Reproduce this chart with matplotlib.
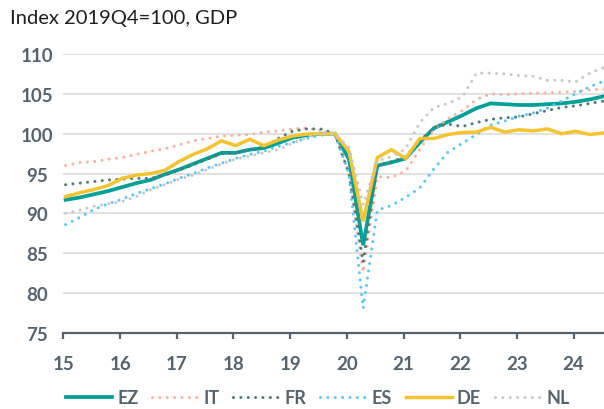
import matplotlib
matplotlib.use("Agg")
import matplotlib.pyplot as plt
import numpy as np

# Quarterly data 2015Q1 .. 2024Q3 (index 2019Q4 = 100)
start_year = 2015
year_ticks = list(range(2015, 2025))
year_labels = ["15", "16", "17", "18", "19", "20", "21", "22", "23", "24"]
y_ticks = [75, 80, 85, 90, 95, 100, 105, 110]

EZ = [91.7, 92.0, 92.4, 92.8, 93.3, 93.8, 94.2, 94.9, 95.5, 96.2, 96.9, 97.6, 97.6, 98.0, 98.2, 98.8,
      99.5, 99.8, 100.0, 100.0, 96.8, 86.0, 96.0, 96.4, 96.9, 98.9, 100.7, 101.5, 102.3, 103.2, 103.8,
      103.7, 103.6, 103.6, 103.7, 103.8, 104.0, 104.3, 104.7]
IT = [96.0, 96.4, 96.5, 96.8, 97.0, 97.4, 97.8, 98.1, 98.6, 99.1, 99.4, 99.7, 99.8, 99.9, 100.2, 100.35,
      100.6, 100.7, 100.4, 100.0, 95.0, 82.6, 94.6, 94.5, 95.3, 98.0, 100.6, 101.9, 102.9, 104.3, 105.0,
      104.9, 105.0, 105.1, 105.1, 105.2, 105.3, 105.5, 105.6]
FR = [93.6, 93.8, 94.0, 94.2, 94.3, 94.4, 94.4, 94.8, 95.4, 96.1, 96.8, 97.5, 97.6, 98.0, 98.3, 99.4,
      100.3, 100.6, 100.6, 100.0, 95.0, 83.9, 96.0, 96.5, 97.1, 99.1, 100.8, 101.2, 100.9, 101.4, 101.8,
      102.0, 102.1, 102.5, 102.9, 103.3, 103.5, 103.8, 104.1]
ES = [88.6, 89.5, 90.5, 91.2, 91.8, 92.5, 93.1, 93.7, 94.4, 95.0, 95.7, 96.3, 96.9, 97.4, 97.8, 98.4,
      98.9, 99.4, 99.8, 100.0, 95.0, 78.1, 90.4, 91.0, 92.0, 93.2, 95.6, 97.7, 98.8, 99.9, 101.1,
      101.6, 102.2, 102.6, 103.2, 104.1, 105.0, 105.9, 106.6]
DE = [92.1, 92.6, 93.0, 93.5, 94.4, 94.8, 95.0, 95.4, 96.5, 97.4, 98.1, 99.1, 98.5, 99.3, 98.5, 99.2,
      99.7, 99.95, 100.0, 100.0, 97.8, 89.0, 97.0, 98.0, 96.9, 99.4, 99.4, 99.9, 100.15, 100.2, 100.8,
      100.2, 100.5, 100.35, 100.6, 100.0, 100.3, 99.9, 100.1]
NL = [90.0, 90.4, 90.9, 91.2, 91.5, 92.1, 93.0, 93.6, 94.3, 94.8, 95.5, 96.2, 96.8, 97.2, 97.6, 98.0,
      98.8, 99.5, 100.1, 100.0, 98.3, 91.1, 96.6, 97.1, 98.1, 101.4, 103.3, 103.8, 104.6, 107.6, 107.6,
      107.5, 107.3, 107.2, 106.7, 106.7, 106.5, 107.6, 108.3]

n = len(EZ)
x = start_year + np.arange(n) / 4.0 + 0.0375

TEAL = "#00a096"
YELLOW = "#f4c430"
SALMON = "#f5b3a3"
DARKTEAL = "#4f7b78"
BLUE = "#5cc8f2"
GREY = "#c8c8c8"
TXT = "#56636d"

fig = plt.figure(figsize=(6.04, 4.10), dpi=100)
ax = fig.add_axes([0.1051, 0.1854, 0.8949, 0.6805])

dot = (0, (0.01, 2.4))
ax.plot(x, EZ, color=TEAL, lw=2.7, label="EZ", solid_joinstyle="miter", zorder=3)
ax.plot(x, IT, color=SALMON, lw=2.2, ls=dot, dash_capstyle="round", label="IT", zorder=3)
ax.plot(x, FR, color=DARKTEAL, lw=2.2, ls=dot, dash_capstyle="round", label="FR", zorder=3)
ax.plot(x, ES, color=BLUE, lw=2.2, ls=dot, dash_capstyle="round", label="ES", zorder=3)
ax.plot(x, DE, color=YELLOW, lw=2.5, label="DE", solid_joinstyle="miter", zorder=3)
ax.plot(x, NL, color=GREY, lw=2.2, ls=dot, dash_capstyle="round", label="NL", zorder=3)

ax.set_xlim(start_year, x[-1])
ax.set_ylim(75, 110)
for v in y_ticks[1:]:
    ax.axhline(v, color="#dcdcdc", lw=1.2, zorder=1)

for s in ["top", "right", "left"]:
    ax.spines[s].set_visible(False)
ax.spines["bottom"].set_color(TXT)
ax.spines["bottom"].set_linewidth(1.6)
ax.spines["bottom"].set_zorder(4)

ax.set_xticks(year_ticks)
ax.set_xticklabels(year_labels)
ax.set_yticks(y_ticks)
ax.set_yticklabels([str(v) for v in y_ticks])
ax.tick_params(axis="x", direction="out", length=4, width=1.6, color=TXT, pad=12)
ax.tick_params(axis="y", length=0, pad=19)
for lab in ax.get_xticklabels() + ax.get_yticklabels():
    lab.set_fontfamily("Lato")
    lab.set_fontweight("bold")
    lab.set_fontsize(13.5)
    lab.set_color(TXT)
for lab in ax.get_yticklabels():
    lab.set_horizontalalignment("center")

fig.text(0.0166, 0.955, "Index 2019Q4=100, GDP", fontfamily="Lato", fontsize=14.5,
         color="#1e1e1e", ha="left", va="center")

leg = fig.legend(loc="center", bbox_to_anchor=(0.526, 0.028), ncol=6, frameon=False,
                 handlelength=2.55, handletextpad=0.3, columnspacing=0.75,
                 borderpad=0.0, borderaxespad=0.0,
                 prop={"family": "Lato", "weight": "bold", "size": 13})
for t in leg.get_texts():
    t.set_color(TXT)

fig.savefig("out.png", dpi=100)
